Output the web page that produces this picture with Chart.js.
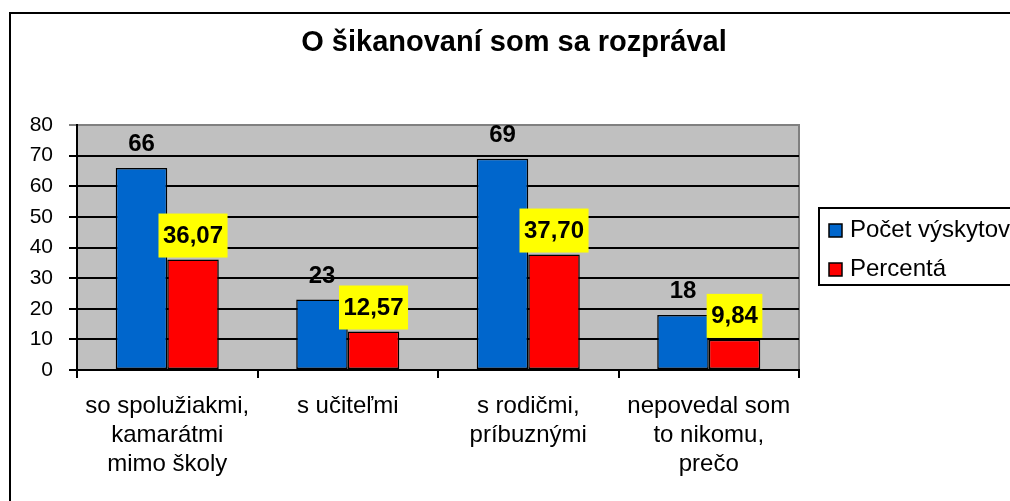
<!DOCTYPE html>
<html>
<head>
<meta charset="utf-8">
<script src="https://cdn.jsdelivr.net/npm/chart.js"></script>
<style>
  html, body { margin: 0; padding: 0; background: #fff; overflow: hidden; }
  #wrap { position: relative; width: 1010px; height: 501px; }
  #frame { position: absolute; left: 9px; top: 12px; width: 1100px; height: 600px;
           border-left: 2px solid #000; border-top: 2px solid #000; pointer-events: none; }
</style>
</head>
<body>
<div id="wrap">
  <canvas id="chart" width="1010" height="501"></canvas>
  <div id="frame"></div>
</div>
<script>
// údaje z grafu
const chartTitle = 'O šikanovaní som sa rozprával';
const categories = [
  ['so spolužiakmi,', 'kamarátmi', 'mimo školy'],
  's učiteľmi',
  ['s rodičmi,', 'príbuznými'],
  ['nepovedal som', 'to nikomu,', 'prečo']
];
const seriesNames = ['Počet výskytov', 'Percentá'];
const counts = [66, 23, 69, 18];
const percents = [36.07, 12.57, 37.70, 9.84];
const yMin = 0;
const yMax = 80;
const yStep = 10;

const FONT = "'Liberation Sans', Arial, sans-serif";

// sivé pozadie grafu a okraj
const plotBackground = {
  id: 'plotBackground',
  beforeDraw(chart) {
    const { ctx, chartArea: a } = chart;
    ctx.save();
    ctx.fillStyle = '#c0c0c0';
    ctx.fillRect(a.left, a.top, a.right - a.left, a.bottom - a.top);
    ctx.strokeStyle = '#808080';
    ctx.lineWidth = 2;
    ctx.beginPath();
    ctx.moveTo(a.left, a.top);
    ctx.lineTo(a.right, a.top);
    ctx.lineTo(a.right, a.bottom);
    ctx.stroke();
    ctx.restore();
  }
};

// nadpis
const titlePlugin = {
  id: 'titlePlugin',
  afterDraw(chart) {
    const ctx = chart.ctx;
    ctx.save();
    ctx.font = 'bold 29px ' + FONT;
    ctx.fillStyle = '#000';
    ctx.textAlign = 'center';
    ctx.textBaseline = 'alphabetic';
    ctx.fillText(chartTitle, 514, 51);
    ctx.restore();
  }
};

// popisky hodnôt nad stĺpcami
const valueLabels = {
  id: 'valueLabels',
  afterDatasetsDraw(chart) {
    const ctx = chart.ctx;
    ctx.save();
    ctx.font = 'bold 24px ' + FONT;
    ctx.textAlign = 'center';
    ctx.textBaseline = 'alphabetic';
    chart.data.datasets.forEach((ds, i) => {
      const meta = chart.getDatasetMeta(i);
      meta.data.forEach((bar, j) => {
        const v = ds.data[j];
        const text = i === 0 ? String(v) : v.toFixed(2).replace('.', ',');
        if (i === 1) {
          const w = ctx.measureText(text).width + 9;
          ctx.fillStyle = '#ffff00';
          ctx.fillRect(bar.x - w / 2, bar.y - 46, w, 44);
        }
        ctx.fillStyle = '#000';
        ctx.fillText(text, bar.x, bar.y - 17);
      });
    });
    ctx.restore();
  }
};

// legenda vpravo
const boxLegend = {
  id: 'boxLegend',
  afterDraw(chart) {
    const ctx = chart.ctx;
    ctx.save();
    ctx.strokeStyle = '#000';
    ctx.lineWidth = 2;
    ctx.strokeRect(819, 208, 300, 77);
    ctx.font = '24px ' + FONT;
    ctx.textBaseline = 'alphabetic';
    ctx.textAlign = 'left';
    chart.data.datasets.forEach((ds, i) => {
      const y = 224 + i * 39;
      ctx.fillStyle = ds.backgroundColor;
      ctx.fillRect(829, y, 13, 13);
      ctx.lineWidth = 1.5;
      ctx.strokeRect(829, y, 13, 13);
      ctx.fillStyle = '#000';
      ctx.fillText(ds.label, 850, y + 13);
    });
    ctx.restore();
  }
};

new Chart(document.getElementById('chart'), {
  type: 'bar',
  data: {
    labels: categories,
    datasets: [
      {
        label: seriesNames[0],
        data: counts,
        backgroundColor: '#0066cc',
        borderColor: '#000',
        borderWidth: 1.5,
        borderSkipped: false
      },
      {
        label: seriesNames[1],
        data: percents,
        backgroundColor: '#ff0000',
        borderColor: '#000',
        borderWidth: 1.5,
        borderSkipped: false
      }
    ]
  },
  options: {
    responsive: false,
    animation: false,
    devicePixelRatio: 1,
    categoryPercentage: 0.571,
    barPercentage: 1,
    layout: { padding: { left: 0, right: 211, top: 125, bottom: 0 } },
    scales: {
      x: {
        afterFit(s) { s.height = 131; },
        grid: {
          drawOnChartArea: false,
          drawTicks: true,
          tickLength: 8,
          color: '#000',
          lineWidth: 2
        },
        border: { color: '#000', width: 2 },
        ticks: {
          color: '#000',
          padding: 14,
          maxRotation: 0,
          font: { family: FONT, size: 24, lineHeight: 1.2 }
        }
      },
      y: {
        min: yMin,
        max: yMax,
        afterFit(s) { s.width = 77; },
        grid: {
          color: ctx => (ctx.tick && ctx.tick.value === yMax ? '#808080' : '#000'),
          lineWidth: 2,
          tickLength: 8
        },
        border: { color: '#000', width: 2 },
        ticks: {
          stepSize: yStep,
          color: '#000',
          padding: 16,
          font: { family: FONT, size: 21 }
        }
      }
    },
    plugins: {
      legend: { display: false },
      title: { display: false },
      tooltip: { enabled: false }
    }
  },
  plugins: [plotBackground, valueLabels, boxLegend, titlePlugin]
});
</script>
</body>
</html>
